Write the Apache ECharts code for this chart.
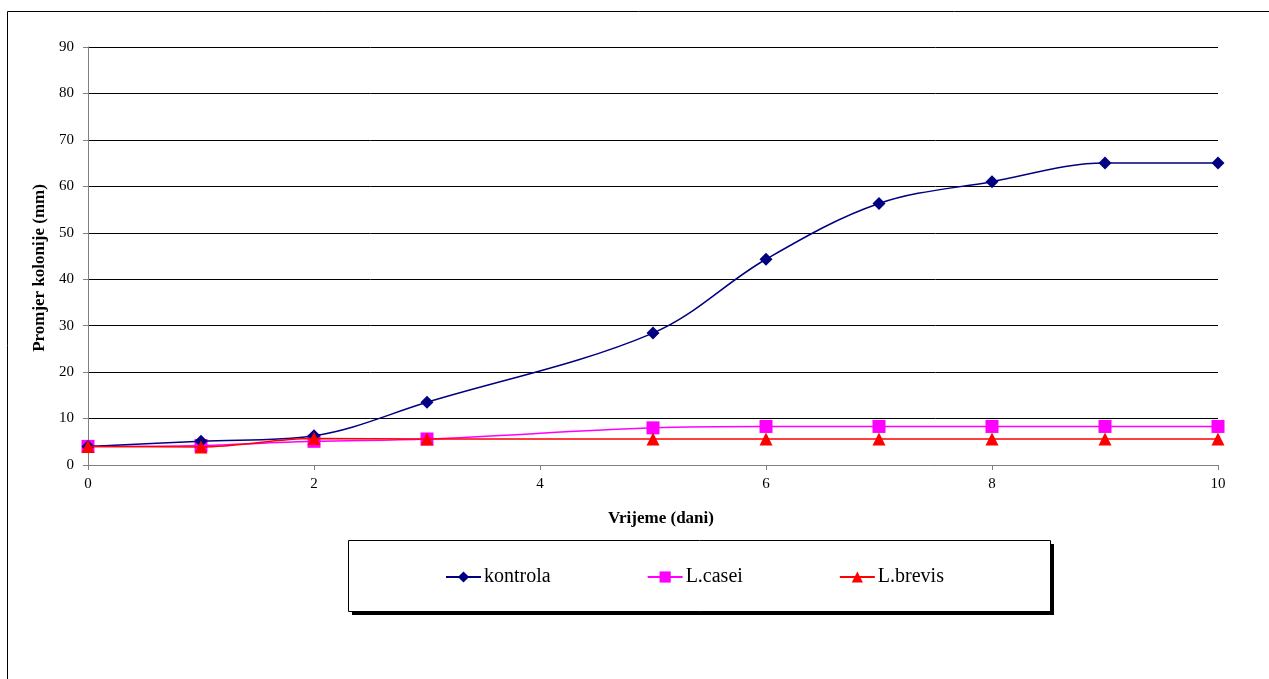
<!DOCTYPE html>
<html><head><meta charset="utf-8">
<script src="https://cdn.jsdelivr.net/npm/echarts@6/dist/echarts.min.js"></script>
<style>html,body{margin:0;padding:0;background:#fff}#c{width:1269px;height:679px}</style>
</head><body><div id="c"></div>
<script>
const days = [0, 1, 2, 3, 5, 6, 7, 8, 9, 10];
const kontrola = [4, 5.1, 6.3, 13.5, 28.4, 44.3, 56.3, 61, 65, 65];
const lcasei = [4, 4.2, 5.1, 5.6, 8, 8.3, 8.3, 8.3, 8.3, 8.3];
const lbrevis = [4, 3.9, 5.7, 5.6, 5.6, 5.6, 5.6, 5.6, 5.6, 5.6];
const xTicks = [0, 2, 4, 6, 8, 10];
const yTicks = [0, 10, 20, 30, 40, 50, 60, 70, 80, 90];

const pair = (ys) => days.map((d, i) => [d, ys[i]]);
const font = "'Liberation Serif', 'Times New Roman', serif";
const chart = echarts.init(document.getElementById('c'));
chart.setOption({
  animation: false,
  textStyle: { fontFamily: font },
  graphic: [
    { type: 'rect', shape: { x: 7.5, y: 11.5, width: 1300, height: 700 }, style: { fill: 'none', stroke: '#000', lineWidth: 1 }, silent: true, z: -10 },
    { type: 'rect', shape: { x: 352, y: 544, width: 702, height: 71 }, style: { fill: '#000' }, silent: true, z: -5 },
    { type: 'rect', shape: { x: 348.5, y: 540.5, width: 702, height: 71 }, style: { fill: '#fff', stroke: '#000', lineWidth: 1 }, silent: true, z: -4 }
  ],
  grid: { left: 88, right: 51, top: 47, bottom: 214, containLabel: false },
  legend: {
    left: 440, top: 562, itemGap: 96, itemWidth: 35, itemHeight: 14,
    textStyle: { fontFamily: font, fontSize: 20, color: '#000', padding: [0, 0, 0, -2] },
    data: ['kontrola', 'L.casei', 'L.brevis']
  },
  xAxis: {
    type: 'value', min: 0, max: 10, interval: 2,
    name: 'Vrijeme (dani)', nameLocation: 'middle', nameGap: 45,
    nameTextStyle: { fontFamily: font, fontSize: 17, fontWeight: 'bold', color: '#000', padding: [0, 0, 0, 16] },
    axisLine: { lineStyle: { color: '#808080', width: 1 } },
    axisTick: { show: true, length: 5, lineStyle: { color: '#808080' } },
    axisLabel: { fontFamily: font, fontSize: 15, color: '#000', margin: 12 },
    splitLine: { show: false }
  },
  yAxis: {
    type: 'value', min: 0, max: 90, interval: 10,
    name: 'Promjer kolonije (mm)', nameLocation: 'middle', nameGap: 34,
    nameTextStyle: { fontFamily: font, fontSize: 17, fontWeight: 'bold', color: '#000', padding: [0, 24, 0, 0] },
    axisLine: { show: true, lineStyle: { color: '#808080', width: 1 } },
    axisTick: { show: true, length: 5, lineStyle: { color: '#808080' } },
    axisLabel: { fontFamily: font, fontSize: 15, color: '#000', margin: 14,
      formatter: (v) => yTicks.includes(v) ? String(v) : '' },
    splitLine: { show: true, lineStyle: { color: '#000', width: 1 } }
  },
  series: [
    { name: 'kontrola', type: 'line', data: pair(kontrola), smooth: 0.35,
      symbol: 'diamond', symbolSize: 13, itemStyle: { color: '#000080' },
      lineStyle: { color: '#000080', width: 1.5 }, z: 3 },
    { name: 'L.casei', type: 'line', data: pair(lcasei), smooth: 0.35,
      symbol: 'rect', symbolSize: 13, itemStyle: { color: '#ff00ff' },
      lineStyle: { color: '#ff00ff', width: 1.5 }, z: 2 },
    { name: 'L.brevis', type: 'line', data: pair(lbrevis), smooth: 0.35,
      symbol: 'triangle', symbolSize: 13, itemStyle: { color: '#ff0000' },
      lineStyle: { color: '#ff0000', width: 1.5 }, z: 4 }
  ]
});
</script></body></html>
